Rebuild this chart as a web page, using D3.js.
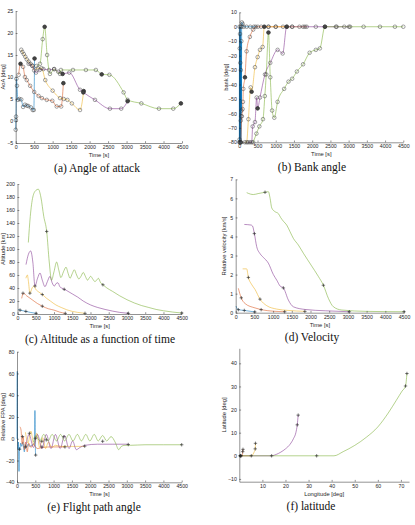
<!DOCTYPE html>
<html>
<head>
<meta charset="utf-8">
<script src="https://cdn.jsdelivr.net/npm/d3@7"></script>
<style>
  body { margin: 0; background: #fff; }
</style>
</head>
<body>
<svg id="fig" width="415" height="525"></svg>
<script>
// ---- shared ----
const timeTicks = [0, 500, 1000, 1500, 2000, 2500, 3000, 3500, 4000, 4500];

// ---- (a) angle of attack [t s, deg] ----
const aoaBlue = [[0,-2],[5,0.2],[10,1],[20,9.6],[35,8],[60,4.8],[100,5],[150,4.9],[200,3.2],[250,3.7],[300,3.5],[340,3.4],[410,3.1],[460,2.5],[490,2.5],[510,14.2]];
const aoaRed = [[80,10.5],[130,13],[200,12.3],[250,10],[300,9.3],[390,8],[500,6.6],[620,5.7],[710,5.2],[840,4.8],[990,4.6],[1110,3.3],[1230,3.3],[1290,8.6]];
const aoaYellow = [[150,16.2],[180,15.7],[220,15.2],[260,14.6],[300,14],[350,13.5],[400,13],[450,12.6],[500,11.5],[600,12],[700,12],[800,9.3],[1000,6.9],[1200,5.2],[1300,5],[1400,4.8],[1520,4],[1740,2.5],[1840,6.8]];
const aoaPurple = [[350,13],[450,12.5],[550,11],[650,11.6],[750,11.8],[900,11.6],[1040,11.8],[1150,11.2],[1270,10.7],[1450,11],[1740,7.1],[1830,6.5],[2145,4.8],[2550,2.8],[2855,2.8],[3030,4.5]];
const aoaGreen = [[560,12.5],[657,13],[730,18.6],[784,21.4],[850,15],[927,10.7],[1040,11.8],[1199,10.7],[1225,11.6],[1550,11.6],[1900,11.6],[2170,11.6],[2327,10.6],[2535,10.5],[2920,6.5],[3030,4.8],[3400,4],[3876,2.8],[4264,2.8],[4470,4]];
const aoaPhasePts = [[510,14.2],[130,13],[1290,8.6],[1840,6.8],[1270,10.7],[1830,6.5],[3030,4.5],[784,21.4],[2327,10.6],[4470,4]];
const aoaTicks = [-5, 0, 5, 10, 15, 20, 25];

// ---- (b) bank angle [t s, deg] ----
const bankBlue = [[0,-80],[4,0],[8,-78],[12,-15],[16,-80],[20,-5],[24,-80],[28,-25],[32,-80],[36,0],[40,-65],[44,-30],[48,-80],[52,-62],[56,-10],[60,-58],[64,0],[70,3],[90,2],[120,0],[200,0],[300,0],[400,0],[510,0]];
const bankRed = [[40,-80],[70,-62],[90,-57],[100,-52],[110,-43],[155,-35],[200,-17],[290,-7],[380,-2],[450,0],[600,0],[800,0],[1000,0],[1310,0]];
const bankYellow = [[150,-80],[200,-80],[250,-64],[312,-42],[338,-45],[430,-28],[503,-21],[567,-16],[640,-14],[686,0],[800,0],[1000,0],[1200,0],[1450,0],[1650,0],[1850,0]];
const bankPurple = [[240,-80],[290,-80],[340,-80],[367,-69],[430,-66],[476,-49],[503,-56.5],[567,-49],[704,-33],[850,-25],[1052,-16],[1190,-18.5],[1300,0],[1450,0],[1750,0],[1800,0],[2100,0],[2350,0],[2650,0],[2880,0],[3040,0]];
const bankGreen = [[380,-80],[470,-74],[550,-69],[650,-64],[700,-48],[740,-33],[800,-4],[850,-35],[900,-58],[960,-63],[1050,-52],[1230,-43],[1350,-38],[1450,-36],[1580,-31],[1750,-26],[1930,-18],[2100,-16],[2210,-15],[2350,0],[2670,0],[3010,0],[3410,0],[3860,0],[4270,0],[4500,0]];
const bankPhasePts = [[155,-35],[338,-45],[503,-56.5],[800,-4],[686,0],[1300,0],[2350,0]];
const bankTicks = [-80, -70, -60, -50, -40, -30, -20, -10, 0, 10];

// ---- (c) altitude [t s, km] ----
const altBlue = [[20,7],[70,6],[150,5],[230,4],[350,2.5],[510,1]];
const altRed = [[115,24],[160,32],[250,28],[400,22],[550,16],[680,12],[850,8],[1000,6],[1150,3],[1310,1]];
const altYellow = [[230,55],[270,60],[300,50],[340,32],[400,40],[450,43],[500,38],[580,34],[680,30],[800,24],[900,20],[1050,14],[1200,10],[1350,6.5],[1500,4],[1650,2.5],[1850,1]];
const altPurple = [[233,76],[300,92],[361,97],[420,80],[479,43],[550,55],[616,63],[680,52],[753,42],[820,50],[890,58],[950,48],[1010,43],[1060,47],[1110,48],[1160,42],[1210,40],[1283,38],[1350,36],[1500,31],[1650,26],[1800,20],[2000,14],[2200,10],[2400,7],[2600,4.5],[2800,2.5],[3040,1]];
const altGreen = [[297,110],[350,150],[420,180],[500,190],[570,192],[640,180],[720,150],[800,127],[870,80],[933,52],[1000,65],[1073,80],[1130,68],[1190,56],[1260,65],[1329,72],[1390,62],[1440,55],[1500,62],[1557,68],[1620,60],[1680,54],[1740,58],[1803,64],[1860,58],[1920,52],[1960,55],[2005,58],[2060,54],[2120,50],[2170,52],[2215,55],[2280,48],[2340,45],[2450,40],[2600,35],[2800,28],[3000,22],[3200,17],[3400,13],[3600,10],[3800,7],[4000,5],[4250,3],[4500,1.5]];
const altMarks = [[70,6],[230,4],[510,1],[150,32],[680,12],[1310,1],[340,32],[680,30],[1850,1],[480,43],[1280,38],[3040,1],[800,127],[2340,45],[4500,1.5]];
const altTicks = [0, 20, 40, 60, 80, 100, 120, 140, 160, 180, 200];

// ---- (d) relative velocity [t s, km/s] ----
const velBlue = [[10,0.35],[40,0.2],[70,0.16],[230,0.12],[510,0.04]];
const velRed = [[71,1.28],[143,0.8],[250,0.48],[517,0.25],[680,0.16],[1000,0.08],[1310,0.05]];
const velYellow = [[186,2.3],[294,2.3],[339,1.85],[420,1.5],[517,1.22],[650,0.71],[829,0.37],[1096,0.19],[1400,0.12],[1850,0.07]];
const velPurple = [[231,4.63],[410,4.6],[450,4.55],[499,4.15],[561,3.47],[650,3.1],[740,2.9],[873,2.6],[1007,2.0],[1100,1.7],[1186,1.4],[1275,1.3],[1409,0.66],[1542,0.31],[1854,0.17],[2400,0.1],[3040,0.05]];
const velGreen = [[294,6.3],[400,6.22],[472,6.2],[600,6.25],[784,6.32],[873,6.35],[920,6.0],[963,5.5],[1052,5.3],[1141,5.2],[1200,5.0],[1275,4.8],[1364,4.6],[1453,4.25],[1542,3.9],[1676,3.55],[1810,3.12],[2015,2.5],[2211,1.9],[2345,1.44],[2479,0.75],[2613,0.31],[2836,0.14],[3500,0.07],[4500,0.05]];
const velMarks = [[70,0.16],[230,0.12],[510,0.04],[150,0.78],[680,0.16],[1310,0.05],[339,1.85],[650,0.71],[1850,0.07],[499,4.15],[1275,1.3],[3040,0.05],[784,6.32],[2345,1.44],[4500,0.05]];
const velTicks = [0, 1, 2, 3, 4, 5, 6, 7];

// ---- (e) relative flight path angle [t s, deg] ----
const fpaBlue = [[0,0],[8,62],[15,-5],[25,-10],[40,-3],[55,-30],[65,-8],[80,-10],[100,-4],[130,-7],[160,-3],[200,-12],[230,-5],[260,-8],[300,-5],[350,-7],[400,-6],[450,-5],[480,-3],[490,26],[500,-5],[510,-15]];
const fpaRed = [[80,11],[110,8],[140,-5],[170,2],[200,-10],[240,-3],[280,-12],[320,-4],[380,-8],[450,-5],[550,-9],[700,-8],[900,-7.5],[1100,-7.5],[1310,-7.5]];
const fpaYellow = [[230,6],[300,-4],[380,7],[460,-6],[540,5],[620,-8],[700,1],[780,-9],[860,-3],[950,-8],[1050,-6],[1200,-7],[1400,-7],[1600,-7],[1850,-7]];
const fpaPurple = [[250,-5],[330,4],[450,-8],[560,4],[680,-9],[800,4],[930,-9],[1050,4],[1180,-9],[1300,3],[1420,-9],[1520,-2],[1620,-10],[1720,-8],[1858,-6],[2200,-5],[2600,-5],[3040,-5]];
const fpaGreen = [[450,-3],[510,3],[620,-2],[730,4],[850,-2],[960,4],[1080,-2],[1190,4],[1300,-2],[1420,4],[1530,-2],[1650,4],[1760,-2],[1880,4],[1990,-2],[2110,4],[2220,-2],[2340,3],[2450,-2],[2570,2],[2680,-3],[2780,-10],[2850,-7],[2950,-6],[3100,-6],[3500,-5.5],[4000,-5.5],[4500,-5.5]];
const fpaMarks = [[70,-9.6],[230,-7.5],[510,-15],[150,2],[680,-7.5],[1310,-7.5],[340,5],[680,-2.3],[1850,-6.8],[500,0.5],[1280,1.9],[3040,-5.3],[800,-1],[2340,-2.3],[4500,-5.5]];
const fpaTicks = [-40, -20, 0, 20, 40, 60, 80];

// ---- (f) ground track [lon deg, lat deg] ----
const trackBlue = [[0,0],[0.8,0]];
const trackRed = [[0,0],[1.2,0],[1.4,1],[1.5,1.8],[1.6,2.8]];
const trackYellow = [[0,0],[5.2,0],[6,0.8],[6.5,1.8],[6.9,3],[7,5.4]];
const trackPurple = [[0,0],[14,0],[16,0.6],[18,1.6],[20,3],[22,5],[23.5,7.5],[24.5,10],[25.1,13.4],[25.5,17.6]];
const trackGreen = [[0,0],[14,0],[33.5,0],[41,0],[45,1.8],[50,4.5],[55,8],[60,12.5],[64.5,18.5],[68,24],[70.5,28],[72,30.2],[72.6,35.6]];
const trackMarks = [[0.3,0],[0.5,0],[0.8,0],[0.6,0],[1.5,1.8],[1.6,2.8],[5.2,0],[6.9,3],[7,5.4],[14,0],[25.1,13.4],[25.5,17.6],[33.5,0],[72,30.2],[72.6,35.6]];
const lonTicks = [10, 20, 30, 40, 50, 60, 70];
const latTicks = [-10, 0, 10, 20, 30, 40];

const runColors = ['#0072BD', '#D95319', '#EDB120', '#7E2F8E', '#77AC30'];
const sansFont = '"Liberation Sans", Arial, sans-serif';
const serifFont = '"Liberation Serif", "DejaVu Serif", "Times New Roman", serif';

const svg = d3.select('#fig');
svg.append('rect').attr('width', 415).attr('height', 525).attr('fill', '#fff');

function drawPanel(p) {
    const g = svg.append('g');
    const x = d3.scaleLinear().domain(p.xDomain).range([p.left, p.right]);
    const y = d3.scaleLinear().domain(p.yDomain).range([p.bottom, p.top]);

    p.series.forEach((s, i) => {
        const curve = (p.linear && p.linear.includes(i)) ? d3.curveLinear : d3.curveMonotoneX;
        g.append('path')
            .datum(s)
            .attr('d', d3.line().x(d => x(d[0])).y(d => y(d[1])).curve(curve))
            .attr('fill', 'none')
            .attr('stroke', runColors[i])
            .attr('stroke-width', 0.55);
    });

    if (p.circles) {
        // open circle at every solver node
        p.series.forEach(s => {
            g.append('g').selectAll('circle')
                .data(s)
                .join('circle')
                .attr('cx', d => x(d[0]))
                .attr('cy', d => y(d[1]))
                .attr('r', 1.8)
                .attr('fill', 'none')
                .attr('stroke', '#333')
                .attr('stroke-width', 0.45);
        });
        g.append('g').selectAll('circle')
            .data(p.filled)
            .join('circle')
            .attr('cx', d => x(d[0]))
            .attr('cy', d => y(d[1]))
            .attr('r', 1.8)
            .attr('fill', '#444')
            .attr('stroke', '#222')
            .attr('stroke-width', 0.45);
    }

    if (p.marks) {
        g.append('g').selectAll('path')
            .data(p.marks)
            .join('path')
            .attr('transform', d => `translate(${x(d[0])},${y(d[1])})`)
            .attr('d', 'M-1.7,0H1.7M0,-1.7V1.7')
            .attr('stroke', '#222')
            .attr('stroke-width', 0.6);
    }

    const styleAxis = sel => {
        sel.attr('font-family', sansFont).attr('font-size', 5.2);
        sel.select('.domain').attr('stroke', '#262626').attr('stroke-width', 0.5);
        sel.selectAll('.tick line').attr('stroke', '#262626').attr('stroke-width', 0.5);
        sel.selectAll('.tick text').attr('fill', '#262626');
    };

    g.append('g')
        .attr('transform', `translate(0,${p.bottom})`)
        .call(d3.axisBottom(x).tickValues(p.xTicks).tickFormat(d3.format('d'))
            .tickSizeInner(-1.8).tickSizeOuter(0).tickPadding(2.5))
        .call(styleAxis);

    g.append('g')
        .attr('transform', `translate(${p.left},0)`)
        .call(d3.axisLeft(y).tickValues(p.yTicks).tickFormat(d3.format('d'))
            .tickSizeInner(-1.8).tickSizeOuter(0).tickPadding(2.5))
        .call(styleAxis);

    g.append('text')
        .attr('x', (p.left + p.right) / 2)
        .attr('y', p.bottom + 14)
        .attr('text-anchor', 'middle')
        .attr('font-family', sansFont)
        .attr('font-size', 5.8)
        .attr('fill', '#262626')
        .text(p.xLabel);

    g.append('text')
        .attr('transform', `translate(${p.yLabelX},${(p.top + p.bottom) / 2}) rotate(-90)`)
        .attr('text-anchor', 'middle')
        .attr('font-family', sansFont)
        .attr('font-size', 5.8)
        .attr('fill', '#262626')
        .text(p.yLabel);

    g.append('text')
        .attr('x', p.capX)
        .attr('y', p.bottom + 28.5)
        .attr('text-anchor', 'middle')
        .style('font-family', serifFont)
        .style('font-size', '11.5px')
        .attr('fill', '#111')
        .text(p.caption);
}

drawPanel({
    left: 15.7, right: 182, top: 11, bottom: 143,
    xDomain: [0, 4500], yDomain: [-5, 25], xTicks: timeTicks, yTicks: aoaTicks,
    series: [aoaBlue, aoaRed, aoaYellow, aoaPurple, aoaGreen],
    circles: true, filled: aoaPhasePts,
    xLabel: 'Time [s]', yLabel: 'AoA [deg]', yLabelX: 5,
    caption: '(a) Angle of attack', capX: 97
});

drawPanel({
    left: 239.3, right: 403.3, top: 12.3, bottom: 142.3,
    xDomain: [0, 4500], yDomain: [-80, 10], xTicks: timeTicks, yTicks: bankTicks,
    series: [bankBlue, bankRed, bankYellow, bankPurple, bankGreen], linear: [0],
    circles: true, filled: bankPhasePts,
    xLabel: 'Time [s]', yLabel: 'bank [deg]', yLabelX: 228,
    caption: '(b) Bank angle', capX: 312
});

drawPanel({
    left: 17.5, right: 181.7, top: 184, bottom: 314,
    xDomain: [0, 4500], yDomain: [0, 200], xTicks: timeTicks, yTicks: altTicks,
    series: [altBlue, altRed, altYellow, altPurple, altGreen],
    marks: altMarks,
    xLabel: 'Time [s]', yLabel: 'Altitude [km]', yLabelX: 5,
    caption: '(c) Altitude as a function of time', capX: 100
});

drawPanel({
    left: 235.7, right: 404, top: 179.3, bottom: 312.7,
    xDomain: [0, 4500], yDomain: [0, 7], xTicks: timeTicks, yTicks: velTicks,
    series: [velBlue, velRed, velYellow, velPurple, velGreen],
    marks: velMarks,
    xLabel: 'Time [s]', yLabel: 'Relative velocity [km/s]', yLabelX: 226,
    caption: '(d) Velocity', capX: 312
});

drawPanel({
    left: 17, right: 181.7, top: 351.7, bottom: 482.3,
    xDomain: [0, 4500], yDomain: [-40, 80], xTicks: timeTicks, yTicks: fpaTicks,
    series: [fpaBlue, fpaRed, fpaYellow, fpaPurple, fpaGreen],
    marks: fpaMarks,
    xLabel: 'Time [s]', yLabel: 'Relative FPA [deg]', yLabelX: 5,
    caption: '(e) Flight path angle', capX: 94
});

drawPanel({
    left: 239.3, right: 409, top: 348.3, bottom: 481.7,
    xDomain: [0, 73.5], yDomain: [-11.2, 46.5], xTicks: lonTicks, yTicks: latTicks,
    series: [trackBlue, trackRed, trackYellow, trackPurple, trackGreen],
    marks: trackMarks,
    xLabel: 'Longitude [deg]', yLabel: 'Latitude [deg]', yLabelX: 226,
    caption: '(f) latitude', capX: 311
});
</script>
</body>
</html>
